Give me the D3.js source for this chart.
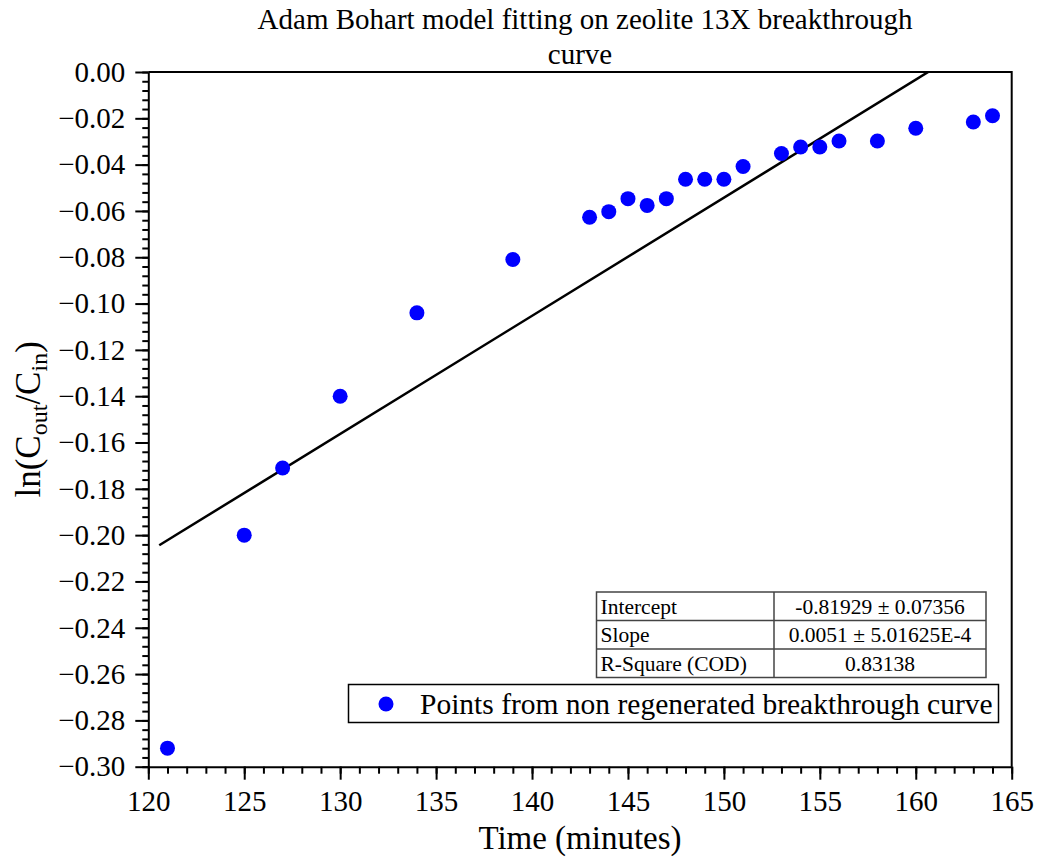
<!DOCTYPE html>
<html>
<head>
<meta charset="utf-8">
<script src="https://cdn.jsdelivr.net/npm/d3@7"></script>
<style>
  body { margin: 0; background: #fff; }
  text { font-family: "Liberation Serif", "Times New Roman", serif; fill: #000; }
</style>
</head>
<body>
<svg id="chart" width="1039" height="859"></svg>
<script>
// breakthrough points: time (min) and ln(Cout/Cin)
const times = [121, 125, 127, 130, 134, 139, 143, 144, 145, 146, 147, 148, 149, 150, 151, 153, 154, 155, 156, 158, 160, 163, 164];
const lnRatio = [-0.292, -0.200, -0.171, -0.140, -0.104, -0.081, -0.0627, -0.0603, -0.0547, -0.0576, -0.0547, -0.0463, -0.0463, -0.0463, -0.0408, -0.0352, -0.0324, -0.0324, -0.0298, -0.0298, -0.0243, -0.0216, -0.0189];

// linear fit results
const intercept = -0.81929;
const slope = 0.0051;
const fitLabels = ["Intercept", "Slope", "R-Square (COD)"];
const fitValues = ["-0.81929 \u00b1 0.07356", "0.0051 \u00b1 5.01625E-4", "0.83138"];

const xTicks = [120, 125, 130, 135, 140, 145, 150, 155, 160, 165];
const yTicks = [0, -0.02, -0.04, -0.06, -0.08, -0.10, -0.12, -0.14, -0.16, -0.18, -0.20, -0.22, -0.24, -0.26, -0.28, -0.30];

const svg = d3.select("#chart");
const plotL = 148.3, plotR = 1011.7, plotT = 72, plotB = 766.7;

const x = d3.scaleLinear().domain([120, 165]).range([plotL, plotR]);
const y = d3.scaleLinear().domain([-0.30, 0]).range([plotB, plotT]);

const fmtY = d => d === 0 ? "0.00" : "\u2212" + d3.format(".2f")(-d);

// frame: top and right edges
svg.append("path")
  .attr("d", `M${plotL},${plotT}H${plotR}V${plotB}`)
  .attr("fill", "none").attr("stroke", "#000").attr("stroke-width", 2);

// minor ticks
svg.append("g")
  .attr("transform", `translate(0,${plotB})`)
  .call(d3.axisBottom(x).tickValues(d3.range(120, 166, 1)).tickSize(7).tickFormat(""))
  .call(g => g.select(".domain").remove())
  .selectAll("line").attr("stroke-width", 2);
svg.append("g")
  .attr("transform", `translate(${plotL},0)`)
  .call(d3.axisLeft(y).tickValues(d3.range(0, 76).map(i => -i * 0.004)).tickSize(6).tickFormat(""))
  .call(g => g.select(".domain").remove())
  .selectAll("line").attr("stroke-width", 2);

// major axes
const xAxis = svg.append("g")
  .attr("transform", `translate(0,${plotB})`)
  .call(d3.axisBottom(x).tickValues(xTicks).tickSize(13).tickSizeOuter(0).tickPadding(11).tickFormat(d3.format("d")));
const yAxis = svg.append("g")
  .attr("transform", `translate(${plotL},0)`)
  .call(d3.axisLeft(y).tickValues(yTicks).tickSize(13).tickSizeOuter(0).tickPadding(10).tickFormat(fmtY));
[xAxis, yAxis].forEach(g => {
  g.attr("font-family", null).attr("font-size", null);
  g.select(".domain").attr("stroke-width", 2);
  g.selectAll("line").attr("stroke-width", 2);
  g.selectAll("text").style("font-size", "29px");
});
xAxis.selectAll("text").attr("dy", "0.71em");

// fitted line over the data range (padded 1%), clipped to the plot area
svg.append("clipPath").attr("id", "plotclip")
  .append("rect").attr("x", plotL).attr("y", plotT).attr("width", plotR - plotL).attr("height", plotB - plotT);
const tExt = d3.extent(times);
const pad = (tExt[1] - tExt[0]) * 0.01;
const fitX = [tExt[0] - pad, tExt[1] + pad];
svg.append("line")
  .attr("clip-path", "url(#plotclip)")
  .attr("x1", x(fitX[0])).attr("y1", y(intercept + slope * fitX[0]))
  .attr("x2", x(fitX[1])).attr("y2", y(intercept + slope * fitX[1]))
  .attr("stroke", "#000").attr("stroke-width", 2.5);

// data points
svg.append("g").selectAll("circle")
  .data(times.map((t, i) => [t, lnRatio[i]]))
  .join("circle")
  .attr("cx", d => x(d[0])).attr("cy", d => y(d[1]))
  .attr("r", 7.5).attr("fill", "#0000ff");

// title
const title = svg.append("text").attr("text-anchor", "middle").style("font-size", "29px");
title.append("tspan").attr("x", 585).attr("y", 29).text("Adam Bohart model fitting on zeolite 13X breakthrough");
title.append("tspan").attr("x", 580).attr("y", 64).text("curve");

// axis titles
svg.append("text").attr("x", 580).attr("y", 849).attr("text-anchor", "middle")
  .style("font-size", "33px").text("Time (minutes)");
const yTitle = svg.append("text")
  .attr("transform", `translate(40,${(plotT + plotB) / 2}) rotate(-90)`)
  .attr("text-anchor", "middle").style("font-size", "35px");
yTitle.append("tspan").text("ln(C");
yTitle.append("tspan").attr("dy", 7).style("font-size", "24px").text("out");
yTitle.append("tspan").attr("dy", -7).text("/C");
yTitle.append("tspan").attr("dy", 7).style("font-size", "24px").text("in");
yTitle.append("tspan").attr("dy", -7).text(")");

// fit table
const tblX = 596.5, tblY = 592, rowH = 28.5, col1 = 177.5, col2 = 212;
const tbl = svg.append("g");
tbl.append("rect").attr("x", tblX).attr("y", tblY).attr("width", col1 + col2).attr("height", rowH * fitLabels.length)
  .attr("fill", "#fff").attr("stroke", "#444").attr("stroke-width", 1.5);
fitLabels.forEach((lab, i) => {
  const ry = tblY + i * rowH;
  if (i > 0) tbl.append("line").attr("x1", tblX).attr("x2", tblX + col1 + col2).attr("y1", ry).attr("y2", ry)
    .attr("stroke", "#444").attr("stroke-width", 1.5);
  tbl.append("text").attr("x", tblX + 4).attr("y", ry + rowH / 2).attr("dy", "0.35em")
    .style("font-size", "21.5px").text(lab);
  tbl.append("text").attr("x", tblX + col1 + col2 / 2).attr("y", ry + rowH / 2).attr("dy", "0.35em")
    .attr("text-anchor", "middle").style("font-size", "21.5px").text(fitValues[i]);
});
tbl.append("line").attr("x1", tblX + col1).attr("x2", tblX + col1).attr("y1", tblY).attr("y2", tblY + rowH * fitLabels.length)
  .attr("stroke", "#444").attr("stroke-width", 1.5);

// legend
const leg = svg.append("g");
leg.append("rect").attr("x", 348.5).attr("y", 684.5).attr("width", 650).attr("height", 38)
  .attr("fill", "#fff").attr("stroke", "#000").attr("stroke-width", 1.5);
leg.append("circle").attr("cx", 386).attr("cy", 704).attr("r", 7.5).attr("fill", "#0000ff");
leg.append("text").attr("x", 420).attr("y", 704).attr("dy", "0.35em")
  .style("font-size", "29.5px").text("Points from non regenerated breakthrough curve");
</script>
</body>
</html>
